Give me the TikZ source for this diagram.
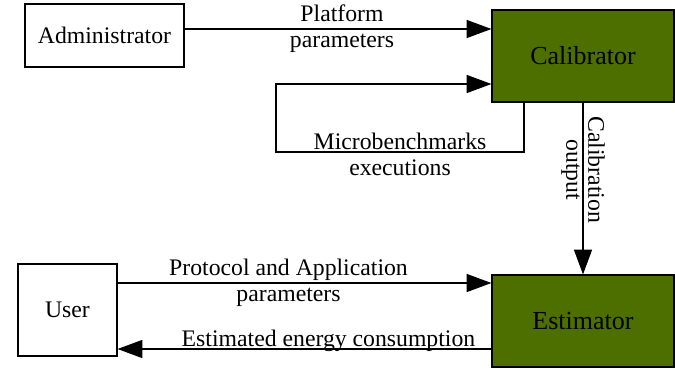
\documentclass[tikz,border=0pt]{standalone}
\usepackage{fontspec}
\setmainfont{Liberation Serif}
\usepackage{xcolor}
\usepackage{tikz}
\usetikzlibrary{arrows.meta}

\definecolor{stagegreen}{RGB}{76,111,0}

\begin{document}
\begin{tikzpicture}[x=0.75pt, y=-0.75pt,
        every node/.style={font=\fontsize{17.8pt}{19.5pt}\selectfont},
        actor/.style={draw, rectangle, line width=0.9pt, inner sep=0pt},
        stage/.style={draw, rectangle, line width=0.9pt, fill=stagegreen, inner sep=0pt,
            minimum width=136.5pt, minimum height=69pt,
            font=\fontsize{19.5pt}{21pt}\selectfont},
        flow/.style={line width=0.8pt, -{Triangle[length=18.5pt, width=13.5pt]}},
        lbl/.style={align=center, inner sep=0pt}]
        \useasboundingbox (0,0) rectangle (675,369);

        % Nodes for calibration and estimation
        \node [actor, minimum width=119.25pt, minimum height=47.25pt] (admin) at (104.5,35.5) {Administrator};
        \node [stage] (calib) at (583,56) {Calibrator};
        \node [stage] (estim) at (583,321) {Estimator};
        \node [actor, minimum width=74.25pt, minimum height=69pt] (user) at (67.5,310) {User};

        % Arrows for calibration
        \draw [flow] (admin.east |- 0,29) -- (calib.west |- 0,29)
            node [lbl, midway, xshift=3pt] {Platform\\parameters};
        \draw [flow] (calib.south -| 524,0) |- (276,152)
            node [lbl, pos=0.75, yshift=-1.5pt] {Microbenchmarks\\executions}
            |- (calib.west |- 0,84);
        \draw [flow] (calib.south) -- (estim.north)
            node [lbl, pos=0.39, rotate=-90, font=\fontsize{17.8pt}{16.5pt}\selectfont] {Calibration\\output};

        % Arrows for estimation
        \draw [flow] (user.east |- 0,283) -- (estim.west |- 0,283)
            node [lbl, midway, xshift=-12pt] {Protocol and Application\\parameters};
        \draw [flow] (estim.west |- 0,349) -- (user.east |- 0,349)
            node [lbl, midway, anchor=base, xshift=18pt, yshift=2.25pt] {Estimated energy consumption};
    \end{tikzpicture}
\end{document}
